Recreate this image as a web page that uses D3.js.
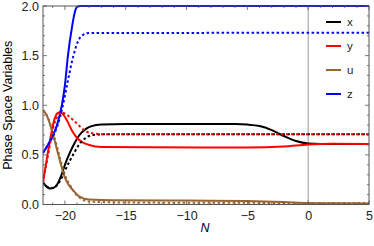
<!DOCTYPE html>
<html>
<head>
<meta charset="utf-8">
<script src="https://cdn.jsdelivr.net/npm/d3@7"></script>
<style>
  body { margin: 0; background: #fff; }
  text { font-family: "Liberation Sans", Arial, sans-serif; }
</style>
</head>
<body>
<div id="wrapper"></div>
<script>
// data, [N, value]
const xSolid = [[-21.8,0.22],[-21.5,0.18],[-21.2,0.16],[-20.9,0.17],[-20.6,0.21],[-20.3,0.29],[-20.0,0.40],[-19.6,0.52],[-19.2,0.62],[-18.8,0.70],[-18.3,0.76],[-17.8,0.79],[-17.0,0.805],[-15,0.81],[-6,0.81],[-5,0.805],[-4,0.79],[-3,0.75],[-2,0.69],[-1,0.64],[0,0.615],[1,0.61],[5,0.61]];
const ySolid = [[-21.8,0.22],[-21.5,0.45],[-21.2,0.66],[-20.9,0.84],[-20.6,0.92],[-20.35,0.93],[-20.1,0.9],[-19.8,0.84],[-19.4,0.74],[-19.0,0.67],[-18.6,0.63],[-18.0,0.60],[-17.0,0.58],[-5,0.575],[-2,0.585],[0,0.605],[2,0.612],[5,0.61]];
const uSolid = [[-21.8,0.95],[-21.5,0.9],[-21.2,0.8],[-20.9,0.67],[-20.6,0.53],[-20.3,0.39],[-20.0,0.27],[-19.7,0.2],[-19.3,0.14],[-18.8,0.08],[-18.0,0.05],[-16,0.042],[-10,0.04],[-5,0.035],[-2,0.025],[0,0.015],[2,0.012],[5,0.01]];
const zSolid = [[-21.8,0.52],[-21.4,0.6],[-21.05,0.68],[-20.65,0.8],[-20.25,1.0],[-20.0,1.2],[-19.75,1.5],[-19.4,1.8],[-19.2,1.93],[-19.0,1.99],[-18.7,2.0],[5,2.0]];

const xDot = [[-21.8,0.22],[-21.5,0.18],[-21.2,0.165],[-20.9,0.17],[-20.6,0.2],[-20.3,0.26],[-20.0,0.34],[-19.6,0.44],[-19.2,0.53],[-18.8,0.61],[-18.4,0.66],[-18.0,0.69],[-17.4,0.705],[-16.5,0.707],[5,0.707]];
const yDot = [[-21.8,0.22],[-21.5,0.42],[-21.2,0.62],[-20.9,0.8],[-20.6,0.89],[-20.2,0.925],[-19.8,0.9],[-19.3,0.85],[-18.8,0.79],[-18.3,0.74],[-17.6,0.715],[-16.5,0.707],[5,0.707]];
const uDot = [[-21.8,0.95],[-21.5,0.9],[-21.2,0.81],[-20.9,0.69],[-20.6,0.56],[-20.3,0.42],[-20.0,0.3],[-19.6,0.2],[-19.2,0.12],[-18.7,0.06],[-18.0,0.03],[-15,0.02],[5,0.015]];
const zDot = [[-21.8,0.52],[-21.4,0.6],[-21.0,0.68],[-20.6,0.8],[-20.2,0.98],[-19.8,1.22],[-19.3,1.5],[-18.9,1.65],[-18.5,1.71],[-18.0,1.728],[5,1.73]];

const names = ["x", "y", "u", "z"];
const colors = ["#000000", "#ff0000", "#996633", "#0000ff"];
const yTicks = [0, 0.5, 1.0, 1.5, 2.0];
const xTicks = [-20, -15, -10, -5, 0, 5];

const width = 374;
const height = 246;
const margin = { top: 6, right: 5, bottom: 41.5, left: 43 };

const svg = d3.select("#wrapper").append("svg")
  .attr("width", width)
  .attr("height", height);

const xScale = d3.scaleLinear().domain([-21.8, 5]).range([margin.left, width - margin.right]);
const yScale = d3.scaleLinear().domain([0, 2]).range([height - margin.bottom, margin.top]);

svg.append("clipPath").attr("id", "clip")
  .append("rect")
  .attr("x", margin.left).attr("y", margin.top - 2)
  .attr("width", width - margin.left - margin.right)
  .attr("height", height - margin.top - margin.bottom + 2);

// vertical line at N = 0
svg.append("line")
  .attr("x1", xScale(0)).attr("x2", xScale(0))
  .attr("y1", yScale(0)).attr("y2", yScale(2))
  .attr("stroke", "#999").attr("stroke-width", 1);

const line = d3.line()
  .x((d) => xScale(d[0]))
  .y((d) => yScale(d[1]))
  .curve(d3.curveMonotoneX);

const plot = svg.append("g").attr("clip-path", "url(#clip)");

const solids = [xSolid, ySolid, uSolid, zSolid];
const dots = [xDot, yDot, uDot, zDot];

solids.forEach((s, i) => {
  plot.append("path").datum(s)
    .attr("d", line).attr("fill", "none")
    .attr("stroke", colors[i]).attr("stroke-width", 2);
});
dots.forEach((s, i) => {
  plot.append("path").datum(s)
    .attr("d", line).attr("fill", "none")
    .attr("stroke", colors[i]).attr("stroke-width", 2)
    .attr("stroke-dasharray", "2.5,2.5");
});

// frame and ticks
const frame = "#555";
const axB = d3.axisBottom(xScale).tickValues(xTicks).tickSize(0).tickPadding(7)
  .tickFormat((d) => (d < 0 ? "\u2212" + Math.abs(d) : d));
const axL = d3.axisLeft(yScale).tickValues(yTicks).tickSize(0).tickPadding(4)
  .tickFormat(d3.format(".1f"));

const gB = svg.append("g").attr("transform", `translate(0,${yScale(0)})`).call(axB);
const gL = svg.append("g").attr("transform", `translate(${margin.left},0)`).call(axL);
[gB, gL].forEach((g) => {
  g.select(".domain").remove();
  g.selectAll("text").attr("font-size", 12.5).attr("fill", "#222")
    .style("font-family", "Liberation Sans, Arial, sans-serif");
});

svg.append("rect")
  .attr("x", margin.left).attr("y", yScale(2))
  .attr("width", xScale(5) - xScale(-21.8))
  .attr("height", yScale(0) - yScale(2))
  .attr("fill", "none").attr("stroke", frame).attr("stroke-width", 1);

const ticks = svg.append("g").attr("stroke", frame).attr("stroke-width", 0.8);
d3.range(-21, 6).forEach((n) => {
  const len = n % 5 === 0 ? 4 : 2;
  ticks.append("line").attr("x1", xScale(n)).attr("x2", xScale(n))
    .attr("y1", yScale(0)).attr("y2", yScale(0) - len);
  ticks.append("line").attr("x1", xScale(n)).attr("x2", xScale(n))
    .attr("y1", yScale(2)).attr("y2", yScale(2) + len);
});
d3.range(0, 21).forEach((k) => {
  const v = k / 10;
  const len = k % 5 === 0 ? 4 : 2;
  ticks.append("line").attr("y1", yScale(v)).attr("y2", yScale(v))
    .attr("x1", xScale(-21.8)).attr("x2", xScale(-21.8) + len);
  ticks.append("line").attr("y1", yScale(v)).attr("y2", yScale(v))
    .attr("x1", xScale(5)).attr("x2", xScale(5) - len);
});

// axis labels
svg.append("text")
  .attr("x", 205).attr("y", 232)
  .attr("text-anchor", "middle")
  .attr("font-size", 12.5).attr("font-style", "italic")
  .text("N");
svg.append("text")
  .attr("transform", `translate(12,${(yScale(0) + yScale(2)) / 2}) rotate(-90)`)
  .attr("text-anchor", "middle")
  .attr("font-size", 12.5)
  .text("Phase Space Variables");

// legend
const legend = svg.append("g");
names.forEach((n, i) => {
  const y = 22 + i * 24;
  legend.append("line")
    .attr("x1", 326).attr("x2", 341).attr("y1", y).attr("y2", y)
    .attr("stroke", colors[i]).attr("stroke-width", 2);
  legend.append("text")
    .attr("x", 347).attr("y", y + 4)
    .attr("font-size", 11.5).attr("fill", "#222")
    .text(n);
});
</script>
</body>
</html>
